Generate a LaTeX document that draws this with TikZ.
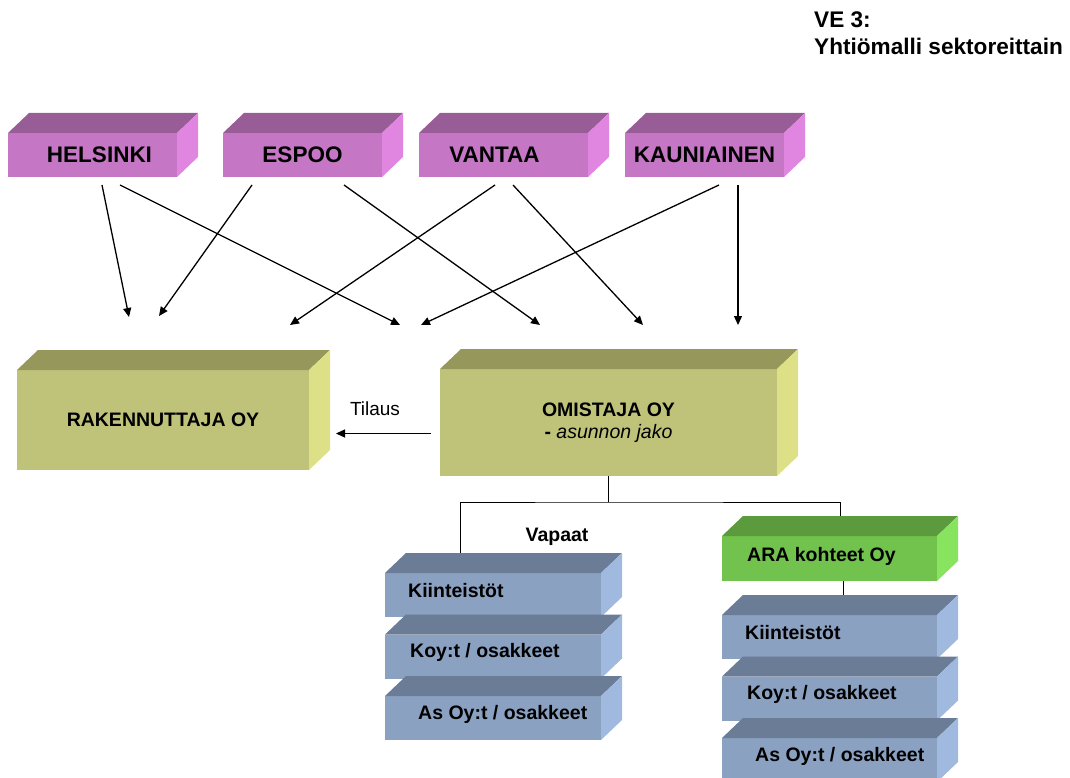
\documentclass[tikz,border=0pt]{standalone}
\usepackage{fontspec}
\setmainfont{Liberation Sans}
\usetikzlibrary{positioning, arrows.meta}
\definecolor{kuntaEtu}{HTML}{C576C4}
\definecolor{kuntaYla}{HTML}{985C96}
\definecolor{kuntaSivu}{HTML}{E086E0}
\definecolor{yhtioEtu}{HTML}{BFC37A}
\definecolor{yhtioYla}{HTML}{96975B}
\definecolor{yhtioSivu}{HTML}{DDE086}
\definecolor{kohdeEtu}{HTML}{8AA1C1}
\definecolor{kohdeYla}{HTML}{6B7C96}
\definecolor{kohdeSivu}{HTML}{A0BADF}
\definecolor{araEtu}{HTML}{72C24E}
\definecolor{araYla}{HTML}{5C9A3E}
\definecolor{araSivu}{HTML}{88E35E}
\newcommand{\kuutio}[3]{%
  \fill[#2] (#1.north west) -- ([xshift=21pt, yshift=20pt]#1.north west) -- ([xshift=21pt, yshift=20pt]#1.north east) -- (#1.north east) -- cycle;
  \fill[#3] (#1.north east) -- ([xshift=21pt, yshift=20pt]#1.north east) -- ([xshift=21pt, yshift=20pt]#1.south east) -- (#1.south east) -- cycle;
}
\begin{document}
\begin{tikzpicture}[x=1pt, y=-1pt,
  laatikko/.style={inner sep=0pt, outer sep=0pt, anchor=north west, text=black},
  kaupunki/.style={laatikko, fill=kuntaEtu, minimum height=44pt, font=\fontsize{22.5}{27}\selectfont\bfseries},
  yhtio/.style={laatikko, fill=yhtioEtu, align=center, font=\fontsize{19.5}{22}\selectfont\bfseries},
  kohde/.style={laatikko, fill=kohdeEtu, minimum width=216pt, minimum height=44pt},
  arabox/.style={laatikko, fill=araEtu, minimum width=215pt, minimum height=45pt},
  teksti/.style={anchor=west, inner sep=0pt, font=\fontsize{19.5}{22}\selectfont\bfseries},
  nuoli/.style={-{Triangle[length=9pt, width=8pt]}, line width=1.3pt},
  viiva/.style={line width=1pt}]
  \useasboundingbox (0,0) rectangle (1070,778);

  % otsikko
  \node[anchor=north west, inner sep=0pt, align=left, font=\fontsize{22.6}{27}\selectfont\bfseries] (ve) at (814,12) {VE 3:\\Yhtiömalli sektoreittain};

  % kunnat
  \node[kaupunki, minimum width=169pt] (hel) at (8,133) {\hspace*{14pt}HELSINKI};
  \node[kaupunki, minimum width=159pt, right=46pt of hel] (esp) {ESPOO};
  \node[kaupunki, minimum width=169pt, right=37pt of esp] (van) {VANTAA\hspace*{18pt}};
  \node[kaupunki, minimum width=159pt, right=37pt of van] (kau) {KAUNIAINEN};
  \foreach \k in {hel, esp, van, kau} {\kuutio{\k}{kuntaYla}{kuntaSivu}}

  % yhtiot
  \node[yhtio, minimum width=292pt, minimum height=100pt] (rak) at (17,370) {RAKENNUTTAJA OY};
  \node[yhtio, minimum width=337pt, minimum height=107pt] (om) at (440,369) {OMISTAJA OY\\- {\mdseries\itshape asunnon jako}};
  \kuutio{rak}{yhtioYla}{yhtioSivu}
  \kuutio{om}{yhtioYla}{yhtioSivu}

  % nuolten karjet
  \coordinate (p1) at (129,317);
  \coordinate (p2) at (159,316);
  \coordinate (p3) at (290,325);
  \coordinate (p4) at (400,325);
  \coordinate (p5) at (421,325);
  \coordinate (p6) at (540,325);
  \coordinate (p7) at (643,325);
  \coordinate (p8) at (738,325);
  \draw[nuoli] ([xshift=9.5pt, yshift=-8pt]hel.south) -- (p1);
  \draw[nuoli] ([xshift=27.5pt, yshift=-8pt]hel.south) -- (p4);
  \draw[nuoli] ([xshift=-50.5pt, yshift=-8pt]esp.south) -- (p2);
  \draw[nuoli] ([xshift=41.5pt, yshift=-8pt]esp.south) -- (p6);
  \draw[nuoli] ([xshift=-8.5pt, yshift=-8pt]van.south) -- (p3);
  \draw[nuoli] ([xshift=9.5pt, yshift=-8pt]van.south) -- (p7);
  \draw[nuoli] ([xshift=14.5pt, yshift=-8pt]kau.south) -- (p5);
  \draw[nuoli] ([xshift=33.5pt, yshift=-8pt]kau.south) -- (p8);

  % tilaus
  \coordinate[xshift=-9pt, yshift=-11pt] (t0) at (om.west);
  \coordinate[xshift=27pt] (t1) at (rak.east);
  \draw[nuoli] (t0) -- (t0 -| t1);
  \node[font=\fontsize{19}{22}\selectfont] (til) at (375,409) {Tilaus};

  % vapaat
  \node[kohde] (vk1) at (385,573) {};
  \node[kohde, below=17.5pt of vk1] (vk2) {};
  \node[kohde, below=17.5pt of vk2] (vk3) {};
  \foreach \k in {vk1, vk2, vk3} {\kuutio{\k}{kohdeYla}{kohdeSivu}}
  \node[teksti] at ([xshift=23pt, yshift=4pt]vk1.west) {Kiinteistöt};
  \node[teksti] at ([xshift=25pt, yshift=4pt]vk2.west) {Koy:t / osakkeet};
  \node[teksti] at ([xshift=33pt, yshift=4pt]vk3.west) {As Oy:t / osakkeet};
  \node[teksti, anchor=center] (vap) at (557,537) {Vapaat};

  % ara
  \node[arabox] (ara) at (722,536) {};
  \kuutio{ara}{araYla}{araSivu}
  \node[teksti] at ([xshift=25pt, yshift=2.5pt]ara.west) {ARA kohteet Oy};
  \node[kohde, minimum width=215pt, below=34pt of ara] (ok1) {};
  \node[kohde, minimum width=215pt, below=17.5pt of ok1] (ok2) {};
  \node[kohde, minimum width=215pt, below=17.5pt of ok2] (ok3) {};
  \foreach \k in {ok1, ok2, ok3} {\kuutio{\k}{kohdeYla}{kohdeSivu}}
  \node[teksti] at ([xshift=23pt, yshift=4pt]ok1.west) {Kiinteistöt};
  \node[teksti] at ([xshift=25pt, yshift=4pt]ok2.west) {Koy:t / osakkeet};
  \node[teksti] at ([xshift=33pt, yshift=4pt]ok3.west) {As Oy:t / osakkeet};

  % haarat
  \draw[viiva] (om.south) -- ++(0,26) coordinate (haara);
  \draw[viiva] ([xshift=-33pt, yshift=20pt]vk1.north) |- (haara) -| ([xshift=10.5pt, yshift=20pt]ara.north);
  \draw[viiva] ([xshift=13.5pt]ara.south) -- ([xshift=13.5pt, yshift=20pt]ok1.north);
\end{tikzpicture}
\end{document}
